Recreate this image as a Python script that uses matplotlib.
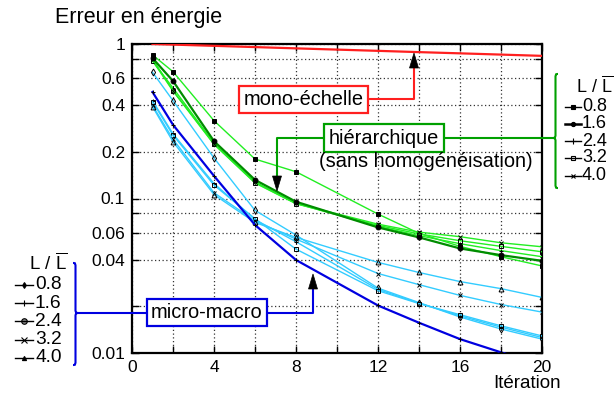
import matplotlib
matplotlib.use('Agg')
import matplotlib.pyplot as plt
from matplotlib.path import Path
from matplotlib.patches import PathPatch, Polygon
from matplotlib.lines import Line2D
from matplotlib.ticker import FixedLocator, FixedFormatter

plt.rcParams['font.family'] = ['Liberation Sans', 'DejaVu Sans']
plt.rcParams['mathtext.fontset'] = 'custom'
plt.rcParams['mathtext.rm'] = 'Liberation Sans'
plt.rcParams['mathtext.it'] = 'Liberation Sans'

# ---------------- data ----------------
iterations = [1, 2, 4, 6, 8, 12, 14, 16, 18, 20]
ratios = ['0.8', '1.6', '2.4', '3.2', '4.0']

mono_echelle = [1.0, 0.991, 0.973, 0.955, 0.937, 0.903, 0.886, 0.870, 0.854, 0.838]
micro_macro = [0.489, 0.30, 0.140, 0.0674, 0.040, 0.0203, 0.0157, 0.0123, 0.0101, 0.0083]

mm_08 = [0.656, 0.43, 0.183, 0.0838, 0.058, 0.0263, 0.0212, 0.0171, 0.0143, 0.0123]
mm_16 = [0.43, 0.262, 0.125, 0.073, 0.0525, 0.0258, 0.0210, 0.0174, 0.0147, 0.0126]
mm_24 = [0.423, 0.257, 0.122, 0.0740, 0.047, 0.0253, 0.0209, 0.0177, 0.0150, 0.0129]
mm_32 = [0.40, 0.242, 0.109, 0.0716, 0.0546, 0.0327, 0.0277, 0.0236, 0.0206, 0.0184]
mm_40 = [0.393, 0.233, 0.106, 0.070, 0.056, 0.0386, 0.0332, 0.029, 0.0261, 0.0229]

h_08 = [0.85, 0.662, 0.319, 0.180, 0.149, 0.0793, 0.0595, 0.049, 0.0420, 0.0366]
h_16 = [0.81, 0.576, 0.235, 0.132, 0.0953, 0.0650, 0.0560, 0.0475, 0.0430, 0.0395]
h_24 = [0.776, 0.52, 0.228, 0.128, 0.093, 0.0660, 0.0575, 0.0510, 0.0460, 0.0420]
h_32 = [0.78, 0.496, 0.224, 0.126, 0.0925, 0.0670, 0.0590, 0.0533, 0.0490, 0.0452]
h_40 = [0.80, 0.50, 0.226, 0.127, 0.093, 0.0682, 0.0606, 0.0566, 0.0517, 0.0487]

ytick_vals = [0.01, 0.02, 0.04, 0.06, 0.08, 0.1, 0.2, 0.4, 0.6, 0.8, 1]
ytick_labels = ['0.01', '', '0.04', '0.06', '', '0.1', '0.2', '0.4', '0.6', '', '1']
xtick_vals = [0, 2, 4, 6, 8, 10, 12, 14, 16, 18, 20]
xtick_labels = ['0', '', '4', '', '8', '', '12', '', '16', '', '20']

# ---------------- styles ----------------
RED = '#ff1f1f'
BLUE = '#0000e0'
CYAN = '#33ccff'
LGREEN = '#22ee22'
DGREEN = '#008c00'
BOXGREEN = '#00a000'

W, H = 614, 401
fig = plt.figure(figsize=(6.14, 4.01), dpi=100)
ax = fig.add_axes([132 / W, 1 - 353 / H, (542 - 132) / W, (353 - 44) / H])


def P(x, y):
    return (x / W, 1 - y / H)


ms = 3.5
mm_series = [mm_08, mm_16, mm_24, mm_32, mm_40]
mm_markers = [dict(marker='d', mfc='none'), dict(marker='+'), dict(marker='s', mfc='none'),
              dict(marker='x'), dict(marker='^', mfc='none')]
h_series = [h_08, h_16, h_24, h_32, h_40]
h_markers = [dict(marker='s', mfc='k'), dict(marker='o', mfc='k'), dict(marker='+'),
             dict(marker='s', mfc='none'), dict(marker='x')]

ax.plot(iterations, mono_echelle, color=RED, lw=1.6, zorder=3)
for ys, mk in zip(mm_series, mm_markers):
    ax.plot(iterations, ys, color=CYAN, lw=1.0, ms=ms, mec='k', mew=0.7, zorder=3, **mk)
for i, (ys, mk) in enumerate(zip(h_series, h_markers)):
    ax.plot(iterations, ys, color=DGREEN if i == 1 else LGREEN,
            lw=1.6 if i == 1 else 1.0, ms=ms, mec='k', mew=0.7, zorder=4 if i == 1 else 3, **mk)
ax.plot(iterations, micro_macro, color=BLUE, lw=1.6, marker='+', ms=ms, mec='k', mew=0.7, zorder=4)

ax.set_yscale('log')
ax.set_xlim(0, 20)
ax.set_ylim(0.01, 1)
ax.yaxis.set_major_locator(FixedLocator(ytick_vals))
ax.yaxis.set_major_formatter(FixedFormatter(ytick_labels))
ax.yaxis.set_minor_locator(FixedLocator([]))
ax.xaxis.set_major_locator(FixedLocator(xtick_vals))
ax.xaxis.set_major_formatter(FixedFormatter(xtick_labels))
ax.tick_params(direction='in', top=True, right=True, length=5, width=1,
               labelsize=12.5, pad=5)
ax.grid(True, which='major', linestyle=(0, (1, 2)), color='#333333', lw=0.9)
for s in ax.spines.values():
    s.set_linewidth(1.6)

# ---------------- titles ----------------
fig.text(*P(55, 18), 'Erreur en énergie', fontsize=15.5, ha='left', va='center')
fig.text(*P(527, 384), 'Itération', fontsize=13.5, ha='center', va='center')


# ---------------- annotation helpers ----------------
def fline(pts, color, lw=1.5):
    xs = [p[0] / W for p in pts]
    ys = [1 - p[1] / H for p in pts]
    fig.add_artist(Line2D(xs, ys, color=color, lw=lw, transform=fig.transFigure, zorder=5))


def head(x, y, up=True, w=4.5, h=15):
    d = 1 if up else -1
    pts = [P(x, y), P(x - w, y + d * h), P(x + w, y + d * h)]
    fig.add_artist(Polygon(pts, closed=True, fc='k', ec='k', lw=0.5,
                           transform=fig.transFigure, zorder=6))


def box_text(x, y, s, ec):
    fig.text(*P(x, y), s, fontsize=14.4, ha='center', va='center', zorder=7,
             bbox=dict(boxstyle='square,pad=0.22', fc='white', ec=ec, lw=1.6))


def brace(xt, xe, y0, y1, ym, color):
    xm = (xt + xe) / 2
    r = 6
    verts = [(xe, y0), (xm, y0), (xm, y0), (xm, y0 + r),
             (xm, ym - r),
             (xm, ym), (xm, ym), (xt, ym),
             (xm, ym), (xm, ym), (xm, ym + r),
             (xm, y1 - r),
             (xm, y1), (xm, y1), (xe, y1)]
    codes = [Path.MOVETO, Path.CURVE4, Path.CURVE4, Path.CURVE4,
             Path.LINETO,
             Path.CURVE4, Path.CURVE4, Path.CURVE4,
             Path.CURVE4, Path.CURVE4, Path.CURVE4,
             Path.LINETO,
             Path.CURVE4, Path.CURVE4, Path.CURVE4]
    v = [P(a, b) for a, b in verts]
    fig.add_artist(PathPatch(Path(v, codes), fc='none', ec=color, lw=1.5,
                             transform=fig.transFigure, zorder=5))


# mono-échelle
fline([(369, 99), (414, 99), (414, 66)], RED)
head(414, 53, up=True)
box_text(303.5, 99.5, 'mono-échelle', RED)

# hiérarchique
fline([(553, 138), (384, 138)], BOXGREEN)
fline([(384, 138), (277, 138), (277, 178)], BOXGREEN)
head(277, 191, up=False)
box_text(384, 138, 'hiérarchique', BOXGREEN)
fig.text(*P(426, 162), '(sans homogénéisation)', fontsize=14.4, ha='center', va='center', zorder=7)
brace(553, 558, 74, 188, 138, BOXGREEN)

# micro-macro
fline([(78, 313), (313, 313), (313, 288)], BLUE)
head(313, 274, up=True)
box_text(207, 312.5, 'micro-macro', BLUE)
brace(78, 73, 263, 365, 313, BLUE)

# ---------------- L / L legends ----------------
title_lbl = r'L / $\overline{\mathrm{L}}$'
fig.text(*P(48, 263), title_lbl, fontsize=13.5, ha='center', va='center')
fig.text(*P(595, 86), title_lbl, fontsize=13, ha='center', va='center')

left_mk = [dict(marker='d', mfc='k', ms=3), dict(marker='+', ms=5), dict(marker='o', mfc='#888888', ms=4),
           dict(marker='x', ms=4), dict(marker='^', mfc='k', ms=3)]
left_y = [284.5, 303, 321, 339.5, 358]
for lab, mk, yy in zip(ratios, left_mk, left_y):
    fline([(15, yy), (33, yy)], 'k', lw=1.0)
    a, b = P(24, yy)
    fig.add_artist(Line2D([a], [b], color='k', mec='k', mew=0.8, transform=fig.transFigure, **mk))
    fig.text(*P(35, yy), lab, fontsize=13.8, ha='left', va='center')

right_mk = [dict(marker='s', mfc='k', ms=2.5), dict(marker='o', mfc='k', ms=3), dict(marker='+', ms=5),
            dict(marker='s', mfc='none', ms=3.5), dict(marker='x', ms=3.5)]
right_y = [107, 124, 141, 158, 175.5]
for i, (lab, mk, yy) in enumerate(zip(ratios, right_mk, right_y)):
    fline([(565, yy), (581, yy)], 'k', lw=1.8 if i == 1 else 1.0)
    a, b = P(573, yy)
    fig.add_artist(Line2D([a], [b], color='k', mec='k', mew=0.8, transform=fig.transFigure, **mk))
    fig.text(*P(582, yy), lab, fontsize=13, ha='left', va='center')

fig.savefig('out.png', dpi=100)
